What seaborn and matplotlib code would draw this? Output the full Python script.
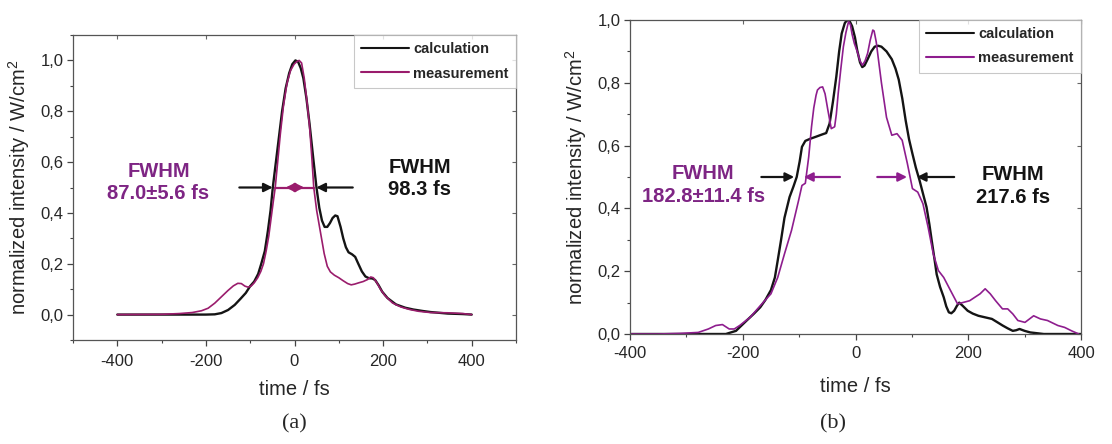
import numpy as np
import pandas as pd
import matplotlib
matplotlib.use("Agg")
import matplotlib.pyplot as plt
from matplotlib.ticker import FuncFormatter, MultipleLocator, NullFormatter
import seaborn as sns

# ---------------- data ----------------
# panel (a)
a_calc_t = [-400, -300, -200, -180, -165, -150, -135, -122, -110, -100, -91, -82, -75, -67, -60, -54,
            -49, -42, -35, -28, -20, -12, -5, 2, 8, 14, 20, 27, 34, 42, 49.6, 56, 62, 68, 74, 80, 86,
            92, 97, 104, 110, 116, 122, 130, 137, 144, 152, 160, 168, 176, 182, 190, 198, 210, 229,
            250, 268, 290, 307, 346, 380, 400]
a_calc_v = [0.0, 0.0, 0.0, 0.001, 0.006, 0.018, 0.038, 0.062, 0.085, 0.112, 0.13, 0.16, 0.2, 0.25, 0.33, 0.41,
            0.5, 0.6, 0.7, 0.8, 0.89, 0.95, 0.985, 1.0, 0.995, 0.97, 0.93, 0.85, 0.75, 0.62, 0.5, 0.42, 0.37, 0.345, 0.345, 0.36, 0.38,
            0.39, 0.387, 0.345, 0.3, 0.265, 0.245, 0.237, 0.227, 0.2, 0.17, 0.15, 0.143, 0.142, 0.136, 0.115, 0.09, 0.065, 0.04,
            0.027, 0.02, 0.014, 0.01, 0.004, 0.002, 0.0]
a_meas_t = [-400, -300, -260, -231, -210, -195, -180, -165, -150, -138, -128, -120, -112, -105, -98, -91,
            -83, -76, -70, -64, -58, -52, -47.5, -43.5, -38, -32, -25, -17, -9, -1, 5, 10.5, 16, 22, 28,
            34, 39, 43.5, 50, 56, 61, 67, 74, 81, 90, 100, 110, 120, 128, 136, 145, 155, 165, 172, 178,
            186, 194, 204, 221, 240, 260, 280, 307, 346, 380, 400]
a_meas_v = [0.0, 0.001, 0.004, 0.008, 0.015, 0.025, 0.045, 0.07, 0.095, 0.113, 0.123, 0.122, 0.112, 0.108, 0.112, 0.125,
            0.145, 0.17, 0.2, 0.25, 0.31, 0.39, 0.45, 0.5, 0.6, 0.71, 0.82, 0.91, 0.96, 0.985, 0.995, 1.0, 0.99, 0.93, 0.84,
            0.74, 0.62, 0.5, 0.41, 0.35, 0.3, 0.24, 0.19, 0.168, 0.155, 0.145, 0.133, 0.122, 0.117, 0.12, 0.125, 0.13, 0.138, 0.148, 0.145,
            0.125, 0.1, 0.075, 0.046, 0.03, 0.02, 0.013, 0.008, 0.007, 0.004, 0.0]

# panel (b)
b_calc_t = [-400, -300, -248, -230, -212, -193, -180, -169, -160, -150, -143, -138, -132, -126, -117, -110,
            -104.3, -99, -95, -89, -80, -70.5, -60, -52, -46, -40, -34, -29, -24.5, -19, -15, -10, -6, -1, 3, 8, 12,
            16, 21.5, 28, 34, 40, 46, 55, 64.4, 71, 76.7, 83, 89, 95, 101, 107, 113.5, 120, 126, 131, 135,
            140, 144, 150, 156.5, 161, 165.6, 170, 175, 180, 184, 190, 199, 208, 218, 230, 242, 252, 261, 270, 279, 285,
            291, 300, 310, 334, 400]
b_calc_v = [0.0, 0.0, 0.0, 0.0, 0.01, 0.043, 0.065, 0.085, 0.108, 0.14, 0.18, 0.234, 0.3, 0.37, 0.436, 0.47,
            0.5, 0.55, 0.596, 0.615, 0.622, 0.628, 0.635, 0.64, 0.67, 0.74, 0.82, 0.9, 0.957, 0.99, 1.0, 0.995, 0.98, 0.945, 0.904, 0.865, 0.85,
            0.855, 0.875, 0.9, 0.915, 0.918, 0.915, 0.9, 0.875, 0.845, 0.81, 0.75, 0.68, 0.62, 0.574, 0.53, 0.49, 0.445, 0.404, 0.35, 0.3,
            0.24, 0.19, 0.15, 0.117, 0.088, 0.069, 0.066, 0.074, 0.09, 0.1, 0.09, 0.074, 0.065, 0.058, 0.053, 0.048, 0.037, 0.027, 0.018, 0.01, 0.012,
            0.016, 0.01, 0.005, 0.0, 0.0]
b_meas_t = [-400, -350, -310, -279, -261, -248, -236, -224, -215, -205.5, -187, -169, -150, -138, -126,
            -113.5, -101, -95, -89, -83, -78, -74, -70, -67.5, -63, -58.3, -54, -49, -43, -37, -34, -30.7, -26, -21.5, -17, -12.3, -9, -6.1,
            -2, 3, 8, 12.3, 17, 21.5, 26, 30.7, 33, 36.8, 41, 46, 55, 64.4, 73.6, 82.8, 92, 101, 110.4, 119.6, 128.8, 138,
            147, 156.5, 168.7, 181, 190, 202.5, 211.7, 221, 230, 239, 248.5, 260.7, 270, 279, 288,
            300.6, 316, 328, 340.5, 359, 371, 383.4, 396]
b_meas_v = [0.0, 0.0, 0.002, 0.005, 0.016, 0.027, 0.03, 0.016, 0.016, 0.027, 0.053, 0.09, 0.128, 0.18, 0.255,
            0.33, 0.425, 0.473, 0.48, 0.564, 0.66, 0.72, 0.76, 0.777, 0.785, 0.787, 0.765, 0.713, 0.654, 0.66, 0.7, 0.766, 0.845, 0.915, 0.96, 0.995, 0.985, 0.955,
            0.925, 0.9, 0.87, 0.856, 0.87, 0.894, 0.935, 0.968, 0.965, 0.93, 0.87, 0.8, 0.69, 0.633, 0.638, 0.617, 0.543, 0.463, 0.452, 0.415, 0.34, 0.255,
            0.202, 0.18, 0.138, 0.096, 0.1, 0.106, 0.117, 0.128, 0.144, 0.128, 0.106, 0.08, 0.08, 0.064, 0.043,
            0.037, 0.058, 0.048, 0.043, 0.027, 0.021, 0.01, 0.0]

series_names = ["calculation", "measurement"]
a_fwhm_calc, a_fwhm_meas = 98.3, 87.0
b_fwhm_calc, b_fwhm_meas = 217.6, 182.8
a_texts = ("FWHM\n87.0\u00b15.6 fs", "FWHM\n98.3 fs")
b_texts = ("FWHM\n182.8\u00b111.4 fs", "FWHM\n217.6 fs")

# ---------------- style ----------------
sns.set_style("ticks")
plt.rcParams["font.family"] = ["Liberation Sans", "DejaVu Sans"]
plt.rcParams["mathtext.default"] = "regular"

BLACK = "#141414"
PURPLE_A = "#9a1c6c"
PURPLE_B = "#8e1d8e"
PURPLE_T = "#7e2584"

fig = plt.figure(figsize=(11.12, 4.44), dpi=100)
axA = fig.add_axes([73 / 1112, 1 - 340 / 444, 443 / 1112, 305 / 444])
axB = fig.add_axes([630 / 1112, 1 - 334 / 444, 451 / 1112, 314 / 444])


def make_df(ct, cv, mt, mv):
    d1 = pd.DataFrame({"t": ct, "v": cv, "s": series_names[0]})
    d2 = pd.DataFrame({"t": mt, "v": mv, "s": series_names[1]})
    return pd.concat([d1, d2], ignore_index=True)


dfA = make_df(a_calc_t, a_calc_v, a_meas_t, a_meas_v)
dfB = make_df(b_calc_t, b_calc_v, b_meas_t, b_meas_v)

sns.lineplot(data=dfA, x="t", y="v", hue="s", ax=axA, sort=False,
             palette={series_names[0]: BLACK, series_names[1]: PURPLE_A}, estimator=None)
sns.lineplot(data=dfB, x="t", y="v", hue="s", ax=axB, sort=False,
             palette={series_names[0]: BLACK, series_names[1]: PURPLE_B}, estimator=None)
for ax in (axA, axB):
    lines = ax.get_lines()
    lines[0].set_linewidth(1.7)
    lines[1].set_linewidth(1.2)
    for ln in lines[:2]:
        ln.set_solid_joinstyle("round")

axA.set_xlim(-500, 500)
axA.set_ylim(-0.1, 1.1)
axB.set_xlim(-400, 400)
axB.set_ylim(0, 1.0)

comma = FuncFormatter(lambda v, p: f"{v:.1f}".replace(".", ","))
for ax, xpad, lpad in ((axA, 6, 8), (axB, 5, 11)):
    ax.yaxis.set_major_formatter(comma)
    ax.xaxis.set_major_locator(MultipleLocator(200))
    ax.xaxis.set_minor_locator(MultipleLocator(100))
    ax.yaxis.set_major_locator(MultipleLocator(0.2))
    ax.yaxis.set_minor_locator(MultipleLocator(0.1))
    ax.tick_params(which="major", direction="out", length=4, width=0.9, labelsize=12,
                   color="#444444", pad=3)
    ax.tick_params(axis="x", which="major", pad=xpad)
    ax.tick_params(which="minor", direction="out", length=2.5, width=0.8, color="#444444")
    ax.tick_params(which="both", top=False, right=False)
    for sp in ax.spines.values():
        sp.set_visible(True)
        sp.set_linewidth(0.9)
        sp.set_color("#555555")
    ax.set_xlabel("time / fs", fontsize=14.5, labelpad=lpad)
    ax.set_ylabel("normalized intensity / W/cm$^2$", fontsize=14.5, labelpad=6)
    ax.xaxis.set_major_formatter(FuncFormatter(lambda v, p: f"{int(v)}"))
    # mirrored inward ticks on top / right (Origin style)
    sx = ax.secondary_xaxis("top")
    sx.xaxis.set_major_locator(MultipleLocator(200))
    sx.xaxis.set_major_formatter(NullFormatter())
    sx.tick_params(direction="in", length=3, width=0.8, color="#666666")
    sx.spines["top"].set_visible(False)
    sy = ax.secondary_yaxis("right")
    sy.yaxis.set_major_locator(MultipleLocator(0.2))
    sy.yaxis.set_major_formatter(NullFormatter())
    sy.tick_params(direction="in", length=3, width=0.8, color="#666666")
    sy.spines["right"].set_visible(False)

# legends
for ax in (axA, axB):
    leg = ax.legend(loc="upper right", frameon=True, fancybox=False, borderaxespad=0.0,
                    handlelength=3.3, handletextpad=0.3, borderpad=0.5, labelspacing=0.7,
                    prop={"weight": "bold", "size": 10.5})
    leg.get_frame().set_edgecolor("#bbbbbb")
    leg.get_frame().set_linewidth(0.8)
    leg.set_title(None)
    leg.set_zorder(5)

arrow_kw = dict(arrowstyle="-|>", lw=1.6, mutation_scale=13, shrinkA=0, shrinkB=0)

# panel (a) FWHM arrows
hA = a_fwhm_calc / 2
axA.annotate("", xy=(-hA, 0.5), xytext=(-124.5, 0.5), arrowprops=dict(color=BLACK, **arrow_kw))
axA.annotate("", xy=(hA, 0.5), xytext=(131.5, 0.5), arrowprops=dict(color=BLACK, **arrow_kw))
mA = a_fwhm_meas / 2
axA.plot([-mA, mA], [0.5, 0.5], color=PURPLE_A, lw=1.6)
axA.annotate("", xy=(-20, 0.5), xytext=(0, 0.5), arrowprops=dict(color=PURPLE_A, **arrow_kw))
axA.annotate("", xy=(22, 0.5), xytext=(2, 0.5), arrowprops=dict(color=PURPLE_A, **arrow_kw))

axA.text(-307, 0.52, a_texts[0], color=PURPLE_T, fontsize=14.5, fontweight="bold",
         ha="center", va="center", linespacing=1.25)
axA.text(283, 0.535, a_texts[1], color=BLACK, fontsize=14.5, fontweight="bold",
         ha="center", va="center", linespacing=1.25)

# panel (b) FWHM arrows
hB = b_fwhm_calc / 2
axB.annotate("", xy=(-hB, 0.5), xytext=(-167, 0.5), arrowprops=dict(color=BLACK, **arrow_kw))
axB.annotate("", xy=(hB, 0.5), xytext=(175, 0.5), arrowprops=dict(color=BLACK, **arrow_kw))
mB = b_fwhm_meas / 2
axB.annotate("", xy=(-mB, 0.5), xytext=(-27.6, 0.5), arrowprops=dict(color=PURPLE_B, **arrow_kw))
axB.annotate("", xy=(mB, 0.5), xytext=(38.6, 0.5), arrowprops=dict(color=PURPLE_B, **arrow_kw))

axB.text(-270, 0.475, b_texts[0], color=PURPLE_T, fontsize=14.5, fontweight="bold",
         ha="center", va="center", linespacing=1.25)
axB.text(279, 0.472, b_texts[1], color=BLACK, fontsize=14.5, fontweight="bold",
         ha="center", va="center", linespacing=1.25)

# captions
fig.text(294 / 1112, 1 - 424 / 444, "(a)", fontsize=16, family="Liberation Serif",
         ha="center", va="center")
fig.text(833 / 1112, 1 - 424 / 444, "(b)", fontsize=16, family="Liberation Serif",
         ha="center", va="center")

fig.savefig("out.png", dpi=100)
